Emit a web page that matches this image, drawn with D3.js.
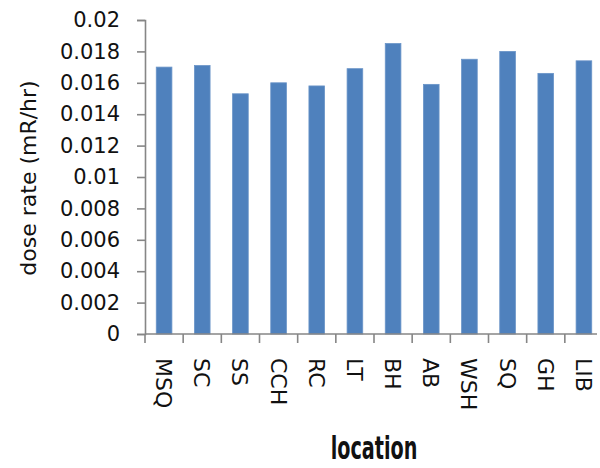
<!DOCTYPE html>
<html>
<head>
<meta charset="utf-8">
<script src="https://cdn.jsdelivr.net/npm/d3@7"></script>
<style>
  html, body { margin: 0; padding: 0; background: #fff; }
  svg { display: block; font-family: "DejaVu Sans", sans-serif; }
</style>
</head>
<body>
<svg id="chart" width="600" height="468"></svg>
<script>
// locations along the x axis
const locations = ["MSQ", "SC", "SS", "CCH", "RC", "LT", "BH", "AB", "WSH", "SQ", "GH", "LIB"];
// dose rate (mR/hr)
const doseRates = [0.0170, 0.0171, 0.0153, 0.0160, 0.0158, 0.0169, 0.0185, 0.0159, 0.0175, 0.0180, 0.0166, 0.0174];
// y tick labels
const yTicks = [0, 0.002, 0.004, 0.006, 0.008, 0.01, 0.012, 0.014, 0.016, 0.018, 0.02];

const svg = d3.select("#chart");
// plot area edges (window.top is taken, so different names)
const plotLeft = 145, plotRight = 603, plotTop = 20, plotBottom = 334;
const axisColor = "#868686";

const x = d3.scaleBand().domain(locations).range([plotLeft, plotRight]).paddingInner(0.59).paddingOuter(0.295);
const y = d3.scaleLinear().domain([0, 0.02]).range([plotBottom, plotTop]);

// bars
svg.append("g").selectAll("rect").data(locations).join("rect")
    .attr("x", d => x(d))
    .attr("y", (d, i) => y(doseRates[i]))
    .attr("width", x.bandwidth())
    .attr("height", (d, i) => y(0) - y(doseRates[i]))
    .attr("fill", "#4f81bd")
    .attr("stroke", "#6a94c8")
    .attr("stroke-width", 0.8);

// y axis
const yAxis = svg.append("g").attr("transform", `translate(${plotLeft},0)`)
    .call(d3.axisLeft(y).tickValues(yTicks).tickSize(8).tickPadding(17)
        .tickFormat(d => String(+d.toFixed(3))));
yAxis.select(".domain").attr("stroke", axisColor).attr("stroke-width", 1.6);
yAxis.selectAll(".tick line").attr("stroke", axisColor).attr("stroke-width", 1.6);
yAxis.selectAll(".tick text").attr("font-size", 21).attr("fill", "#111")
    .attr("font-family", "DejaVu Sans, sans-serif");

// x axis: line + ticks at category boundaries
const xg = svg.append("g");
xg.append("line").attr("x1", plotLeft).attr("x2", 597).attr("y1", y(0)).attr("y2", y(0))
    .attr("stroke", axisColor).attr("stroke-width", 1.6);
const bounds = locations.map(d => x(d) + x.bandwidth() / 2 - x.step() / 2);
xg.selectAll(".xt").data(bounds).join("line")
    .attr("x1", d => d).attr("x2", d => d)
    .attr("y1", y(0)).attr("y2", y(0) + 9)
    .attr("stroke", axisColor).attr("stroke-width", 1.6);
xg.selectAll(".xl").data(locations).join("text")
    .attr("transform", d => `translate(${x(d) + x.bandwidth() / 2},${y(0) + 24}) rotate(90)`)
    .attr("dy", "0.36em")
    .attr("font-size", 22)
    .attr("fill", "#111")
    .text(d => d);

// axis titles
svg.append("text")
    .attr("transform", "translate(36,178) rotate(-90)")
    .attr("text-anchor", "middle")
    .attr("font-size", 22)
    .attr("fill", "#111")
    .text("dose rate (mR/hr)");

svg.append("text")
    .attr("transform", `translate(${(plotLeft + plotRight) / 2},459) scale(0.8,1.3)`)
    .attr("text-anchor", "middle")
    .attr("font-size", 24)
    .attr("font-weight", "bold")
    .attr("fill", "#111")
    .text("location");
</script>
</body>
</html>
